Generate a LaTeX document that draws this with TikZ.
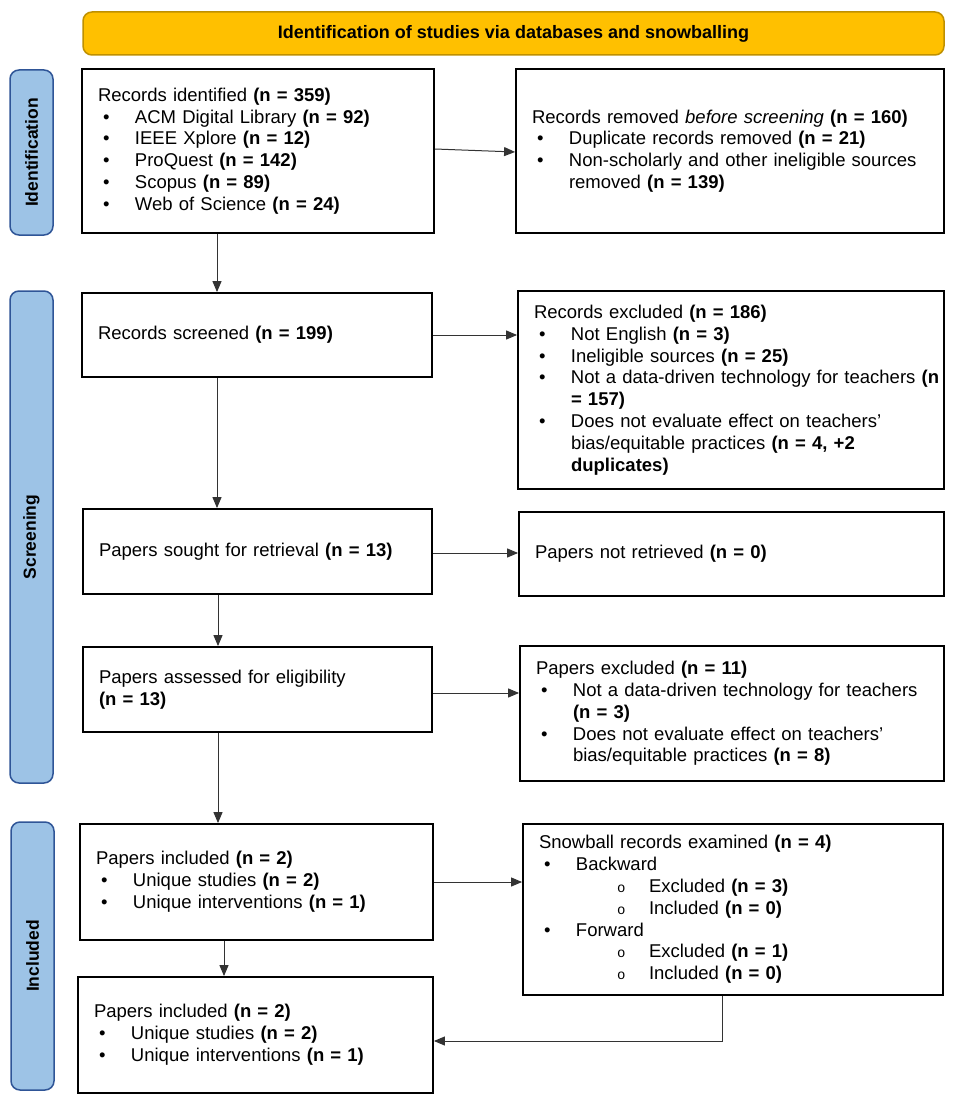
\documentclass[tikz,border=0pt]{standalone}
\usepackage{fontspec}
\setmainfont{Liberation Sans}
\newfontfamily\monof{Liberation Mono}
\usetikzlibrary{arrows.meta}
\definecolor{bannerfill}{HTML}{FFC000}
\definecolor{bannerline}{HTML}{BF9000}
\definecolor{barfill}{HTML}{9DC3E6}
\definecolor{barline}{HTML}{2F5597}
\definecolor{arrcol}{HTML}{333333}
\newcommand\itm[1]{\par\hangindent=37pt\hangafter=1\noindent\makebox[37pt][l]{\hspace{5pt}\textbullet}#1}
\newcommand\sitm[1]{\par\hangindent=110pt\hangafter=1\noindent\makebox[110pt][l]{\hspace{78pt}{\monof\fontsize{14pt}{14pt}\selectfont o}}#1}
\newcommand\nn[1]{\textbf{(n = #1)}}
\newcommand\pb[7]{\node[pbox, minimum width=#4pt, minimum height=#5pt, text width=#6pt] (#1) at (#2,#3) {\noindent #7\par};}
\tikzset{
  pbox/.style={draw=black, line width=1.8pt, rectangle, align=left, inner xsep=16pt, inner ysep=0pt,
    font=\fontsize{18.5pt}{21.8pt}\selectfont},
  arr/.style={-{Triangle[length=11pt,width=9pt]}, line width=1pt, draw=arrcol},
  bar/.style={draw=barline, fill=barfill, line width=1.5pt, rounded corners=9pt, rotate=90,
    minimum height=43pt, inner sep=0pt, font=\bfseries\fontsize{17.5pt}{20pt}\selectfont},
  banner/.style={draw=bannerline, fill=bannerfill, line width=1.5pt, rounded corners=9pt,
    minimum width=861pt, minimum height=43pt, inner sep=0pt, font=\bfseries\fontsize{18pt}{20pt}\selectfont}
}
\begin{document}
\begin{tikzpicture}[x=1pt,y=-1pt]
\useasboundingbox (0,0) rectangle (957,1105);
% banner and side bars
\node[banner] (ban) at (513.5,33.5) {Identification of studies via databases and snowballing};
\node[bar, minimum width=165pt] (idbar) at (31.5,152.5) {Identification};
\node[bar, minimum width=492pt] (scbar) at (31.5,537) {Screening};
\node[bar, minimum width=268pt] (inbar) at (32.5,956) {Included};
% boxes
\pb{b1}{258}{151}{352}{164}{320}{Records identified \nn{359}
\itm{ACM Digital Library \nn{92}}
\itm{IEEE Xplore \nn{12}}
\itm{ProQuest \nn{142}}
\itm{Scopus \nn{89}}
\itm{Web of Science \nn{24}}}
\pb{b2}{730}{151}{428}{164}{396}{Records removed \emph{before screening} \nn{160}
\itm{Duplicate records removed \nn{21}}
\itm{Non-scholarly and other ineligible sources\newline removed \nn{139}}}
\pb{b3}{257}{335}{350}{84}{318}{Records screened \nn{199}}
\pb{b4}{731}{390}{426}{198}{394}{Records excluded \nn{186}
\itm{Not English \nn{3}}
\itm{Ineligible sources \nn{25}}
\itm{\mbox{Not a data-driven technology for teachers \textbf{(n}}\newline\textbf{= 157)}}
\itm{Does not evaluate effect on teachers’\newline bias/equitable practices \textbf{(n = 4, +2}\newline\textbf{duplicates)}}}
\pb{b5}{257.5}{551.5}{349}{85}{317}{Papers sought for retrieval \nn{13}}
\pb{b6}{731.5}{554}{425}{84}{393}{Papers not retrieved \nn{0}}
\pb{b7}{257.5}{689.5}{349}{85}{317}{Papers assessed for eligibility\newline \nn{13}}
\pb{b8}{732}{713.5}{424}{135}{392}{Papers excluded \nn{11}
\itm{Not a data-driven technology for teachers\newline \nn{3}}
\itm{Does not evaluate effect on teachers’\newline bias/equitable practices \nn{8}}}
\pb{b9}{256.5}{882}{353}{116}{321}{Papers included \nn{2}
\itm{Unique studies \nn{2}}
\itm{Unique interventions \nn{1}}}
\pb{b10}{733}{909.5}{420}{171}{388}{Snowball records examined \nn{4}
\itm{Backward}
\sitm{Excluded \nn{3}}
\sitm{Included \nn{0}}
\itm{Forward}
\sitm{Excluded \nn{1}}
\sitm{Included \nn{0}}}
\pb{b11}{255.5}{1035}{355}{116}{323}{Papers included \nn{2}
\itm{Unique studies \nn{2}}
\itm{Unique interventions \nn{1}}}
% helper coordinates
\coordinate (v1) at (217,0);
\coordinate (v2) at (218,0);
\coordinate (v3) at (224,0);
\coordinate (h7) at (0,693);
\coordinate (h5) at (0,553);
\coordinate (s1) at (722,1041);
% connectors
\draw[arr] ([yshift=2pt]b1.east) -- ([yshift=-1pt]b2.west);
\draw[arr] (b1.south -| v1) -- (b3.north -| v1);
\draw[arr] (b3.east) -- (b3.east -| b4.west);
\draw[arr] (b3.south -| v1) -- (b5.north -| v1);
\draw[arr] (b5.east |- h5) -- (b6.west |- h5);
\draw[arr] (b5.south -| v2) -- (b7.north -| v2);
\draw[arr] (b7.east |- h7) -- (b8.west |- h7);
\draw[arr] (b7.south -| v2) -- (b9.north -| v2);
\draw[arr] (b9.east) -- (b9.east -| b10.west);
\draw[arr] (b9.south -| v3) -- (b11.north -| v3);
\draw[arr] (b10.south -| s1) -- (s1) -- (b11.east |- s1);
\end{tikzpicture}
\end{document}
